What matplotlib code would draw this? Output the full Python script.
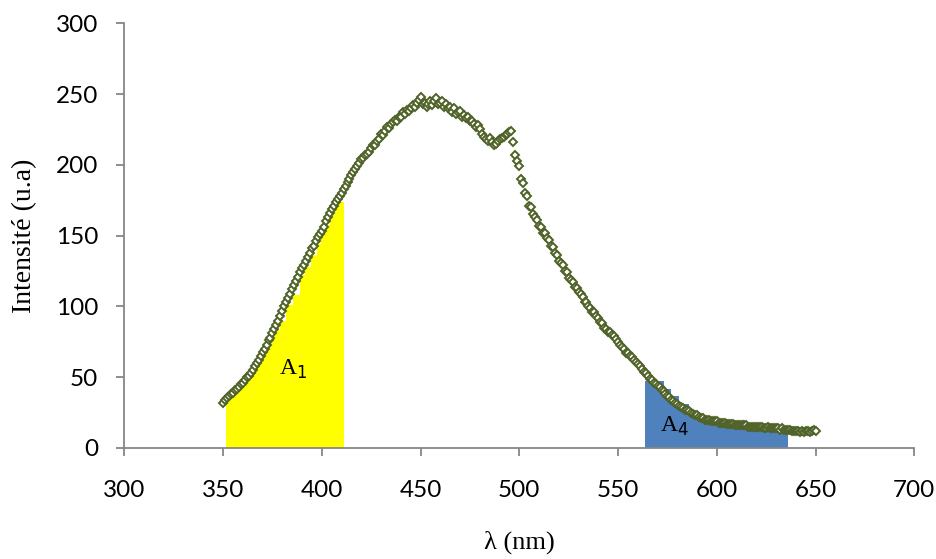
import numpy as np
from matplotlib import pyplot as plt

# measured spectrum, one point per nm from 350 to 650
wavelength = list(range(350, 651))
intensity = [
    32, 34, 35, 37, 38, 39, 41, 42, 43, 45,
    46, 48, 50, 51, 53, 55, 58, 60, 62, 65,
    68, 70, 73, 76, 78, 81, 84, 87, 90, 93,
    97, 100, 103, 106, 109, 112, 115, 118, 121, 124,
    127, 129, 132, 135, 138, 141, 143, 146, 149, 151,
    153, 156, 160, 163, 166, 169, 171, 174, 176, 178,
    180, 183, 185, 188, 190, 193, 195, 197, 199, 201,
    204, 205, 207, 208, 209, 212, 214, 214, 217, 218,
    222, 221, 224, 227, 226, 229, 230, 232, 231, 234,
    234, 237, 236, 239, 238, 240, 242, 241, 244, 246,
    248, 243, 244, 241, 243, 245, 242, 245, 247, 243,
    244, 245, 241, 243, 240, 241, 237, 240, 236, 237,
    238, 234, 235, 233, 234, 231, 231, 229, 227, 228,
    225, 222, 220, 218, 217, 219, 216, 214, 215, 217,
    218, 219, 220, 221, 222, 223, 224, 216, 207, 203,
    199, 190, 187, 180, 178, 171, 170, 165, 163, 161,
    157, 156, 152, 152, 148, 147, 143, 142, 138, 136,
    132, 131, 129, 125, 124, 120, 119, 117, 114, 113,
    110, 109, 107, 103, 103, 100, 99, 96, 96, 93,
    92, 89, 88, 85, 84, 82, 82, 80, 79, 77,
    75, 73, 71, 70, 67, 67, 65, 64, 62, 61,
    59, 58, 56, 54, 53, 51, 49, 48, 46, 45,
    44, 43, 41, 40, 38, 37, 36, 34, 33, 32,
    31, 30, 29, 28, 27, 27, 26, 25, 24, 23,
    23, 22, 21, 21, 20, 20, 20, 19, 19, 19,
    19, 18, 18, 18, 18, 17, 17, 17, 17, 16,
    16, 16, 16, 16, 16, 16, 15, 15, 15, 15,
    15, 15, 15, 15, 14, 14, 15, 14, 14, 14,
    14, 14, 13, 14, 13, 13, 13, 13, 12, 12,
    12, 12, 11, 12, 11, 12, 12, 11, 12, 13,
    12,
]

# stepped areas under the curve (left edges + last right edge, step heights)
a1_edges = [351.6, 355, 358.4, 361.8, 366, 369.4, 372.7, 375.3, 378.7, 382,
            385.4, 388.8, 391.4, 394.7, 397.3, 399.8, 401.5, 404, 406.6, 411]
a1_heights = [35.9, 41.7, 46.5, 53.5, 60.6, 68.9, 74.8, 83, 90, 100.7,
              107.8, 122, 127.9, 136, 144.4, 151.5, 157.3, 164.4, 173.9]

a4_edges = [563.6, 573, 576.6, 580.7, 585.9, 590, 594.4, 603.7, 608.8, 635.9]
a4_heights = [47.6, 42, 37, 31, 26.4, 22.4, 19.3, 17, 14]

x_ticks = [300, 350, 400, 450, 500, 550, 600, 650, 700]
y_ticks = [0, 50, 100, 150, 200, 250, 300]

fig = plt.figure(figsize=(9.37, 5.59), dpi=100)
ax = fig.add_axes([0.1327, 0.1986, 0.8431, 0.7597])

ax.fill_between(a1_edges, a1_heights + [a1_heights[-1]], step='post',
                color='#FFFF00', linewidth=0, zorder=1)
ax.fill_between(a4_edges, a4_heights + [a4_heights[-1]], step='post',
                color='#4F81BD', linewidth=0, zorder=1)

ax.plot(wavelength, intensity, linestyle='none', marker='D', markersize=4.2,
        markerfacecolor='white', markeredgecolor='#4F6228', markeredgewidth=1.4,
        zorder=2)

ax.text(385.3, 55.8, 'A$_1$', fontsize=17, family='Liberation Serif', ha='center', va='center')
ax.text(578.6, 15.5, 'A$_4$', fontsize=17, family='Liberation Serif', ha='center', va='center')

ax.set_xlim(300, 700)
ax.set_ylim(0, 300)
ax.set_xticks(x_ticks)
ax.set_yticks(y_ticks)

for s in ['top', 'right']:
    ax.spines[s].set_visible(False)
for s in ['left', 'bottom']:
    ax.spines[s].set_color('#868686')
    ax.spines[s].set_linewidth(1.3)
ax.tick_params(direction='out', length=6, width=1.3, color='#868686', labelsize=17.5)
ax.tick_params(axis='x', pad=17)
ax.tick_params(axis='y', pad=13)
for lab in ax.get_xticklabels() + ax.get_yticklabels():
    lab.set_family('Lato')

ax.set_xlabel('λ (nm)', family='Liberation Serif', fontsize=19, labelpad=21)
ax.set_ylabel('Intensité (u.a)', family='Liberation Serif', fontsize=20, labelpad=13)

fig.savefig('out.png', dpi=100)
